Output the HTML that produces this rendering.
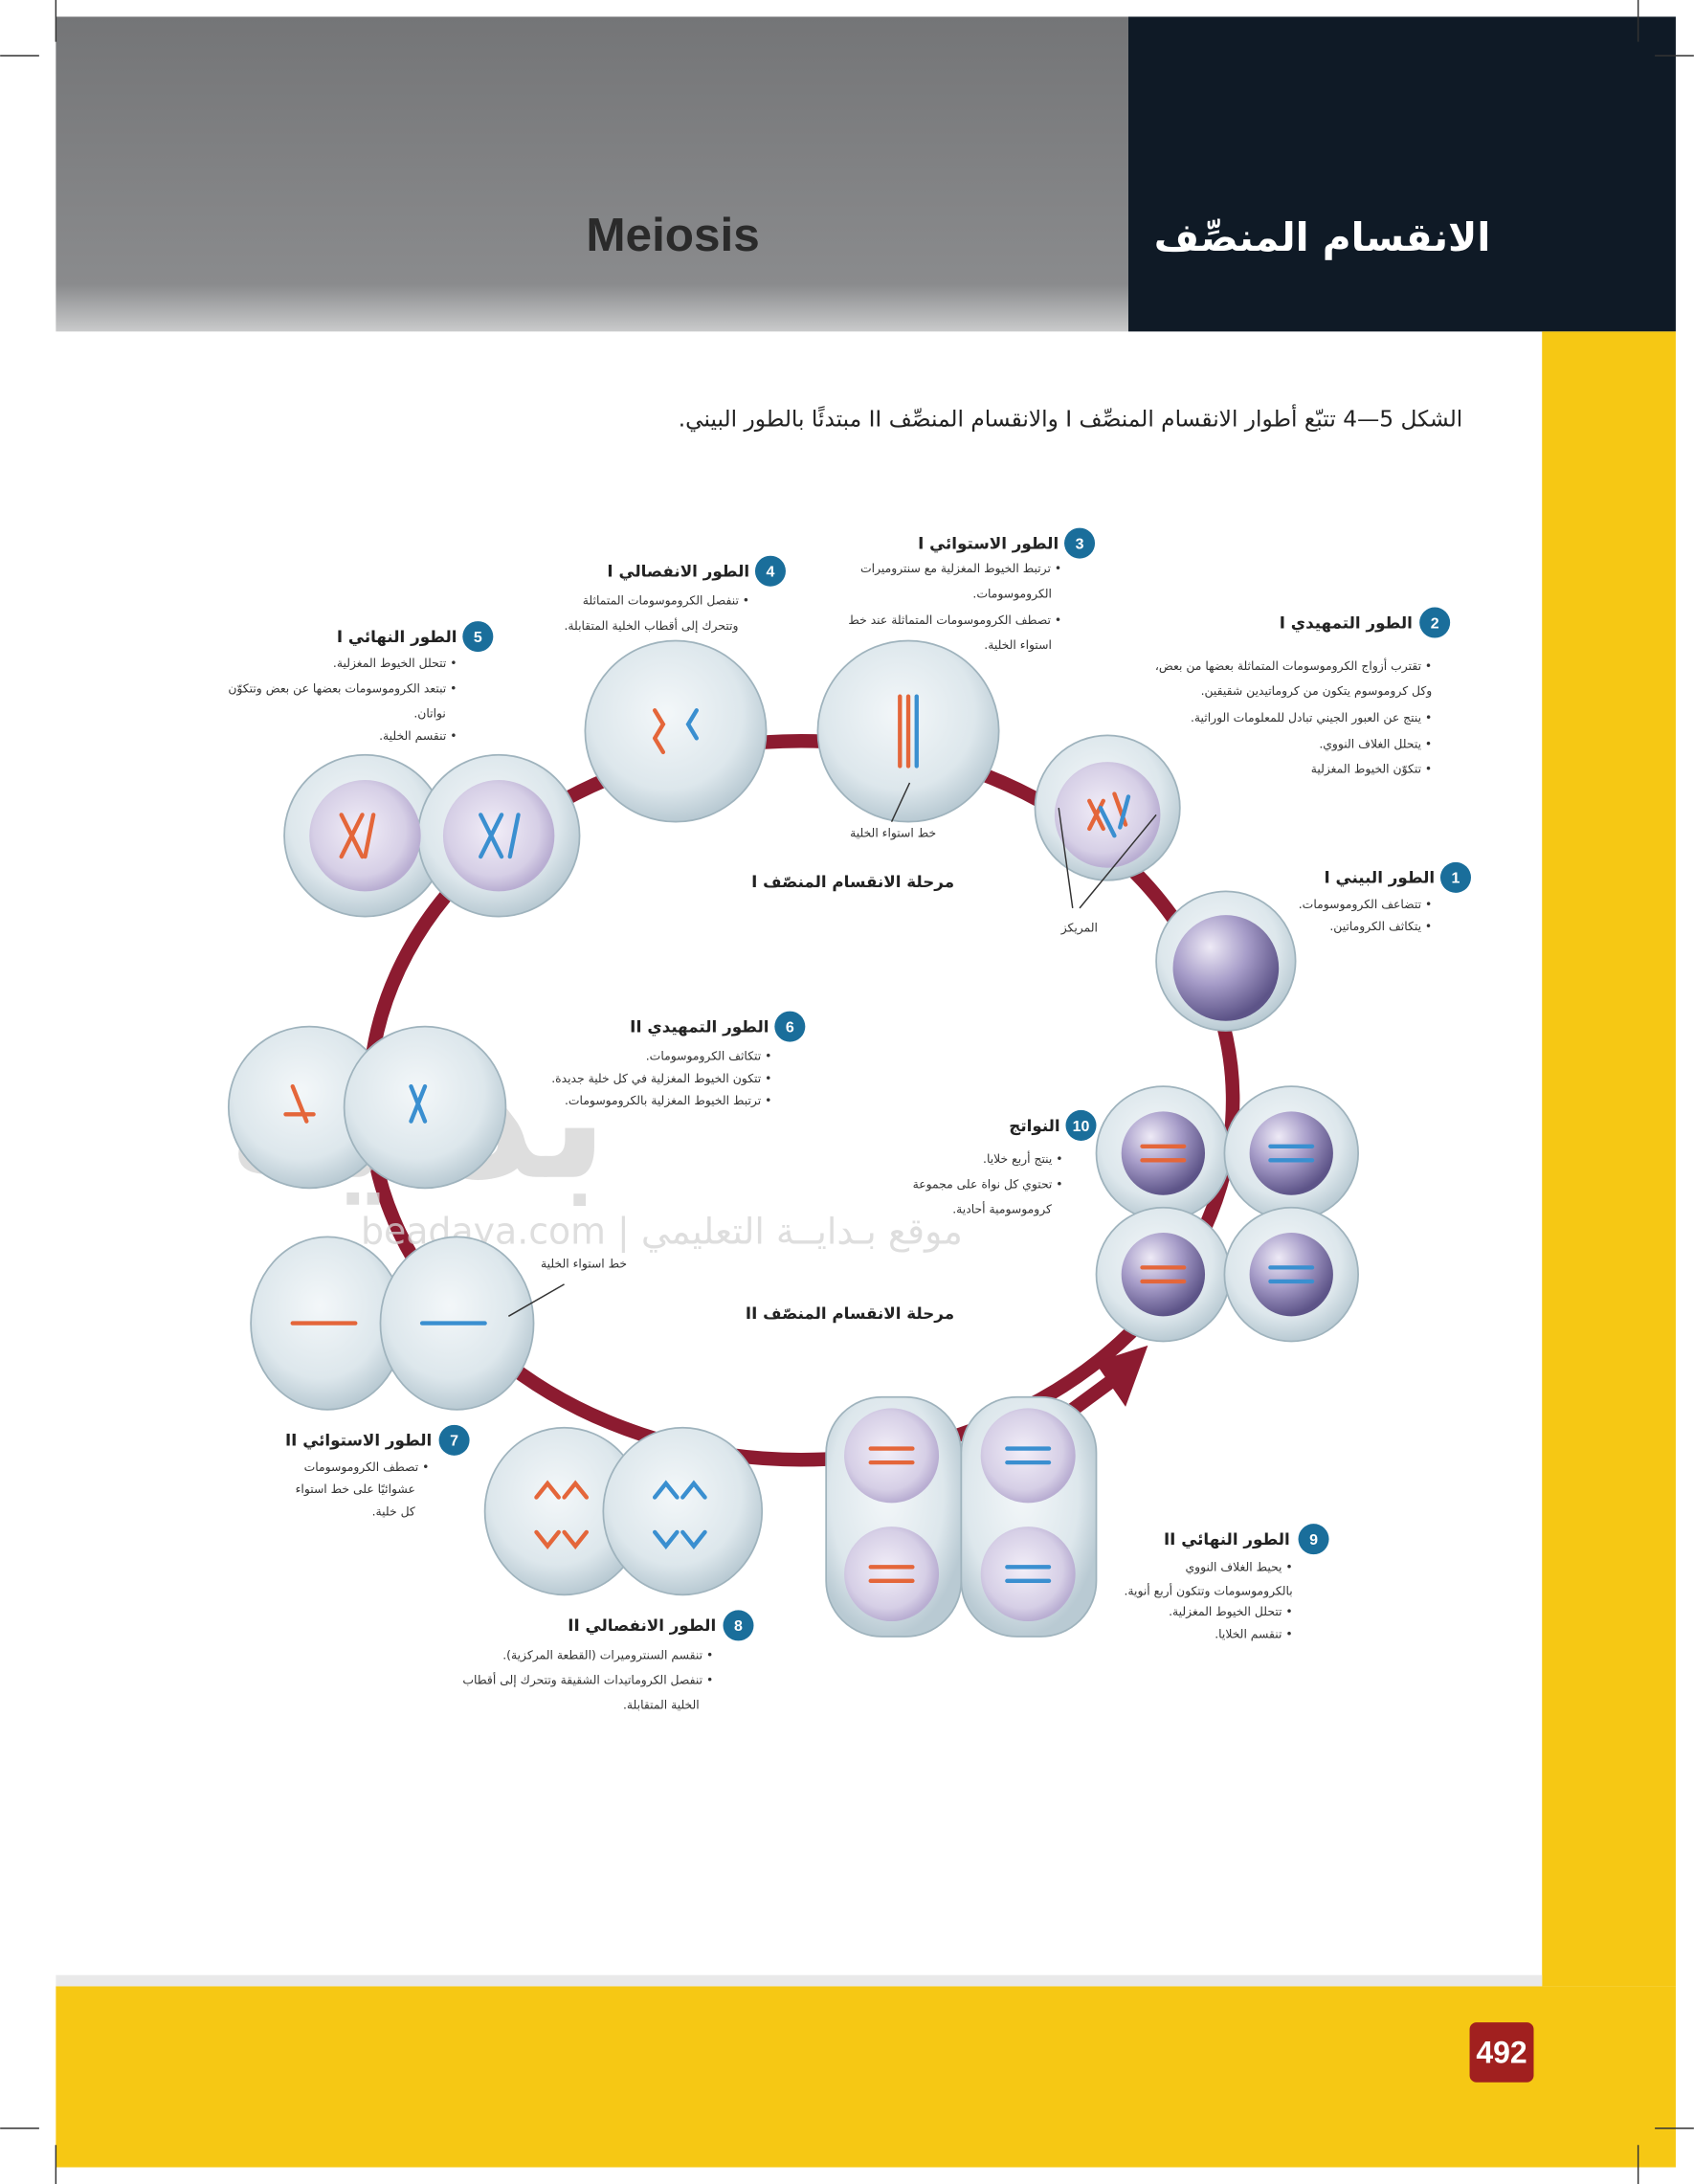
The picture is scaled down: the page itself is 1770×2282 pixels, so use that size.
<!DOCTYPE html>
<html><head><meta charset="utf-8"><style>
html,body{margin:0;padding:0;background:#fff}
svg{display:block}
text{font-family:"DejaVu Sans","Liberation Sans",sans-serif}
.h{font-size:11.5px;font-weight:bold;fill:#222}
.b{font-size:8.5px;fill:#333}
.n{font-size:11px;font-weight:bold;fill:#fff;font-family:"Liberation Sans",sans-serif}
</style></head><body>
<svg width="1770" height="2282" viewBox="0 0 1216 1568" xmlns="http://www.w3.org/2000/svg">
<defs>
<linearGradient id="gh" x1="0" y1="0" x2="0" y2="1"><stop offset="0" stop-color="#747577"/><stop offset="0.85" stop-color="#8a8b8d"/><stop offset="1" stop-color="#c9cacb"/></linearGradient>
<radialGradient id="cell" cx="0.45" cy="0.4" r="0.6"><stop offset="0" stop-color="#f3f7f9"/><stop offset="0.7" stop-color="#dde7ec"/><stop offset="1" stop-color="#b9cad3"/></radialGradient>
<radialGradient id="nuc" cx="0.45" cy="0.45" r="0.55"><stop offset="0" stop-color="#f2eef8"/><stop offset="0.75" stop-color="#d6cfe6"/><stop offset="1" stop-color="#b9aed2"/></radialGradient>
<radialGradient id="sph" cx="0.35" cy="0.3" r="0.7"><stop offset="0" stop-color="#eeeaf6"/><stop offset="0.5" stop-color="#a79dc9"/><stop offset="1" stop-color="#5d5488"/></radialGradient>
</defs>
<rect width="1216" height="1568" fill="#fff"/>
<rect x="40" y="12" width="770" height="226" fill="url(#gh)"/>
<rect x="810" y="12" width="393" height="226" fill="#0f1a26"/>
<text x="483" y="180" text-anchor="middle" font-weight="bold" font-size="34" fill="#2a2a2a" style="font-family:'Liberation Sans'">Meiosis</text>
<text x="1070" y="180" text-anchor="start" font-weight="bold" font-size="28" fill="#fff" direction="rtl">الانقسام المنصِّف</text>
<rect x="1107" y="238" width="96" height="1188" fill="#f6c814"/>
<rect x="40" y="1426" width="1163" height="130" fill="#f6c814"/>
<rect x="40" y="1418" width="1067" height="8" fill="#e9e9e9"/>
<rect x="1055" y="1452" width="46" height="43" rx="5" fill="#a1201f"/>
<text x="1078" y="1481" text-anchor="middle" font-size="22" font-weight="bold" fill="#fff" style="font-family:'Liberation Sans'">492</text>
<g stroke="#333" stroke-width="1">
<line x1="40" y1="0" x2="40" y2="30"/><line x1="0" y1="40" x2="28" y2="40"/>
<line x1="1176" y1="0" x2="1176" y2="30"/><line x1="1188" y1="40" x2="1216" y2="40"/>
<line x1="40" y1="1540" x2="40" y2="1568"/><line x1="0" y1="1528" x2="28" y2="1528"/>
<line x1="1176" y1="1540" x2="1176" y2="1568"/><line x1="1188" y1="1528" x2="1216" y2="1528"/>
</g>
<text x="1050" y="306" text-anchor="start" font-size="16" fill="#222" direction="rtl">الشكل 5—4  تتبّع أطوار الانقسام المنصِّف I والانقسام المنصِّف II مبتدئًا بالطور البيني.</text>
<ellipse cx="575" cy="790" rx="310" ry="258" fill="none" stroke="#8c1b30" stroke-width="10"/>
<line x1="770" y1="1012" x2="800" y2="990" stroke="#8c1b30" stroke-width="10"/>
<polygon points="824,966 786,978 808,1010" fill="#8c1b30"/>
<g fill="#d4d4d4" opacity="0.75">
<text x="300" y="845" text-anchor="middle" font-size="120" font-weight="bold" direction="rtl">بداية</text>
<text x="475" y="893" text-anchor="middle" font-size="26">beadaya.com | موقع بـدايــة التعليمي</text>
</g>
<g stroke="#9fb3bd" stroke-width="1.2">
<circle cx="880" cy="690" r="50" fill="url(#cell)"/>
<circle cx="880" cy="695" r="38" fill="url(#sph)" stroke="none"/>
<circle cx="795" cy="580" r="52" fill="url(#cell)"/>
<circle cx="795" cy="585" r="38" fill="url(#nuc)" stroke="none"/>
<circle cx="652" cy="525" r="65" fill="url(#cell)"/>
<circle cx="485" cy="525" r="65" fill="url(#cell)"/>
<ellipse cx="262" cy="600" rx="58" ry="58" fill="url(#cell)"/>
<ellipse cx="358" cy="600" rx="58" ry="58" fill="url(#cell)"/>
<circle cx="262" cy="600" r="40" fill="url(#nuc)" stroke="none"/>
<circle cx="358" cy="600" r="40" fill="url(#nuc)" stroke="none"/>
<circle cx="222" cy="795" r="58" fill="url(#cell)"/>
<circle cx="305" cy="795" r="58" fill="url(#cell)"/>
<ellipse cx="235" cy="950" rx="55" ry="62" fill="url(#cell)"/>
<ellipse cx="328" cy="950" rx="55" ry="62" fill="url(#cell)"/>
<ellipse cx="405" cy="1085" rx="57" ry="60" fill="url(#cell)"/>
<ellipse cx="490" cy="1085" rx="57" ry="60" fill="url(#cell)"/>
<rect x="593" y="1003" width="97" height="172" rx="40" fill="url(#cell)"/>
<rect x="690" y="1003" width="97" height="172" rx="40" fill="url(#cell)"/>
<circle cx="640" cy="1045" r="34" fill="url(#nuc)" stroke="none"/>
<circle cx="738" cy="1045" r="34" fill="url(#nuc)" stroke="none"/>
<circle cx="640" cy="1130" r="34" fill="url(#nuc)" stroke="none"/>
<circle cx="738" cy="1130" r="34" fill="url(#nuc)" stroke="none"/>
<circle cx="835" cy="828" r="48" fill="url(#cell)"/>
<circle cx="927" cy="828" r="48" fill="url(#cell)"/>
<circle cx="835" cy="915" r="48" fill="url(#cell)"/>
<circle cx="927" cy="915" r="48" fill="url(#cell)"/>
<circle cx="835" cy="828" r="30" fill="url(#sph)" stroke="none"/>
<circle cx="927" cy="828" r="30" fill="url(#sph)" stroke="none"/>
<circle cx="835" cy="915" r="30" fill="url(#sph)" stroke="none"/>
<circle cx="927" cy="915" r="30" fill="url(#sph)" stroke="none"/>
</g>
<g stroke-width="3" stroke-linecap="round" fill="none">
<path d="M782 575 l10 20 M792 575 l-10 20 M800 570 l8 22" stroke="#e4663a"/>
<path d="M790 580 l10 20 M810 572 l-6 22" stroke="#3a8fd0"/>
<path d="M646 500 v50 M652 500 v50" stroke="#e4663a"/><path d="M658 500 v50" stroke="#3a8fd0"/>
<path d="M470 510 l6 10 l-6 10 M470 530 l6 10" stroke="#e4663a"/><path d="M500 510 l-6 10 l6 10" stroke="#3a8fd0"/>
<path d="M245 585 l15 30 M260 585 l-15 30" stroke="#e4663a"/><path d="M268 585 l-6 30" stroke="#e4663a"/>
<path d="M345 585 l15 30 M360 585 l-15 30 M372 585 l-6 30" stroke="#3a8fd0"/>
<path d="M210 780 l10 25 M205 800 l20 0" stroke="#e4663a"/><path d="M295 780 l10 25 M305 780 l-10 25" stroke="#3a8fd0"/>
<path d="M210 950 h45" stroke="#e4663a"/><path d="M303 950 h45" stroke="#3a8fd0"/>
<path d="M385 1075 l8 -10 l8 10 M405 1075 l8 -10 l8 10 M385 1100 l8 10 l8 -10 M405 1100 l8 10 l8 -10" stroke="#e4663a"/>
<path d="M470 1075 l8 -10 l8 10 M490 1075 l8 -10 l8 10 M470 1100 l8 10 l8 -10 M490 1100 l8 10 l8 -10" stroke="#3a8fd0"/>
<path d="M625 1040 h30 M625 1050 h30 M625 1125 h30 M625 1135 h30 M820 823 h30 M820 833 h30 M820 910 h30 M820 920 h30" stroke="#e4663a"/>
<path d="M723 1040 h30 M723 1050 h30 M723 1125 h30 M723 1135 h30 M912 823 h30 M912 833 h30 M912 910 h30 M912 920 h30" stroke="#3a8fd0"/>
</g>
<g stroke="#333" stroke-width="1"><line x1="760" y1="580" x2="770" y2="652"/><line x1="830" y1="585" x2="775" y2="652"/><line x1="653" y1="562" x2="640" y2="590"/><line x1="405" y1="922" x2="365" y2="945"/></g>
<g fill="#1a6e9b">
<circle cx="1045" cy="630" r="11"/><circle cx="1030" cy="447" r="11"/><circle cx="775" cy="390" r="11"/><circle cx="553" cy="410" r="11"/><circle cx="343" cy="457" r="11"/><circle cx="567" cy="737" r="11"/><circle cx="326" cy="1034" r="11"/><circle cx="530" cy="1167" r="11"/><circle cx="943" cy="1105" r="11"/><circle cx="776" cy="808" r="11"/>
</g>
<g text-anchor="middle">
<text class="n" x="1045" y="634">1</text><text class="n" x="1030" y="451">2</text><text class="n" x="775" y="394">3</text><text class="n" x="553" y="414">4</text><text class="n" x="343" y="461">5</text><text class="n" x="567" y="741">6</text><text class="n" x="326" y="1038">7</text><text class="n" x="530" y="1171">8</text><text class="n" x="943" y="1109">9</text><text class="n" x="776" y="812">10</text>
</g>
<g text-anchor="start" direction="rtl">
<text class="h" x="1030" y="634">الطور البيني I</text>
<text class="b" x="1028" y="652">• تتضاعف الكروموسومات.</text>
<text class="b" x="1028" y="668">• يتكاثف الكروماتين.</text>
<text class="h" x="1014" y="451">الطور التمهيدي I</text>
<text class="b" x="1028" y="481">• تقترب أزواج الكروموسومات المتماثلة بعضها من بعض،</text>
<text class="b" x="1028" y="499">وكل كروموسوم يتكون من كروماتيدين شقيقين.</text>
<text class="b" x="1028" y="518">• ينتج عن العبور الجيني تبادل للمعلومات الوراثية.</text>
<text class="b" x="1028" y="537">• يتحلل الغلاف النووي.</text>
<text class="b" x="1028" y="555">• تتكوّن الخيوط المغزلية</text>
<text class="h" x="760" y="394">الطور الاستوائي I</text>
<text class="b" x="762" y="411">• ترتبط الخيوط المغزلية مع سنتروميرات</text>
<text class="b" x="755" y="429">الكروموسومات.</text>
<text class="b" x="762" y="448">• تصطف الكروموسومات المتماثلة عند خط</text>
<text class="b" x="755" y="466">استواء الخلية.</text>
<text class="h" x="538" y="414">الطور الانفصالي I</text>
<text class="b" x="538" y="434">• تنفصل الكروموسومات المتماثلة</text>
<text class="b" x="530" y="452">وتتحرك إلى أقطاب الخلية المتقابلة.</text>
<text class="h" x="328" y="461">الطور النهائي I</text>
<text class="b" x="328" y="479">• تتحلل الخيوط المغزلية.</text>
<text class="b" x="328" y="497">• تبتعد الكروموسومات بعضها عن بعض وتتكوّن</text>
<text class="b" x="320" y="515">نواتان.</text>
<text class="b" x="328" y="531">• تنقسم الخلية.</text>
<text class="b" x="672" y="601">خط استواء الخلية</text>
<text class="b" x="788" y="669">المريكز</text>
<text class="h" x="685" y="637" font-size="14">مرحلة الانقسام المنصّف I</text>
<text class="h" x="685" y="947" font-size="14">مرحلة الانقسام المنصّف II</text>
<text class="h" x="552" y="741">الطور التمهيدي II</text>
<text class="b" x="554" y="761">• تتكاثف الكروموسومات.</text>
<text class="b" x="554" y="777">• تتكون الخيوط المغزلية في كل خلية جديدة.</text>
<text class="b" x="554" y="793">• ترتبط الخيوط المغزلية بالكروموسومات.</text>
<text class="h" x="761" y="812">النواتج</text>
<text class="b" x="763" y="835">• ينتج أربع خلايا.</text>
<text class="b" x="763" y="853">• تحتوي كل نواة على مجموعة</text>
<text class="b" x="755" y="871">كروموسومية أحادية.</text>
<text class="b" x="450" y="910">خط استواء الخلية</text>
<text class="h" x="310" y="1038">الطور الاستوائي II</text>
<text class="b" x="308" y="1056">• تصطف الكروموسومات</text>
<text class="b" x="298" y="1072">عشوائيًا على خط استواء</text>
<text class="b" x="298" y="1088">كل خلية.</text>
<text class="h" x="514" y="1171">الطور الانفصالي II</text>
<text class="b" x="512" y="1191">• تنقسم السنتروميرات (القطعة المركزية).</text>
<text class="b" x="512" y="1209">• تنفصل الكروماتيدات الشقيقة وتتحرك إلى أقطاب</text>
<text class="b" x="502" y="1227">الخلية المتقابلة.</text>
<text class="h" x="926" y="1109">الطور النهائي II</text>
<text class="b" x="928" y="1128">• يحيط الغلاف النووي</text>
<text class="b" x="928" y="1145">بالكروموسومات وتتكون أربع أنوية.</text>
<text class="b" x="928" y="1160">• تتحلل الخيوط المغزلية.</text>
<text class="b" x="928" y="1176">• تنقسم الخلايا.</text>
</g>
</svg>
</body></html>
